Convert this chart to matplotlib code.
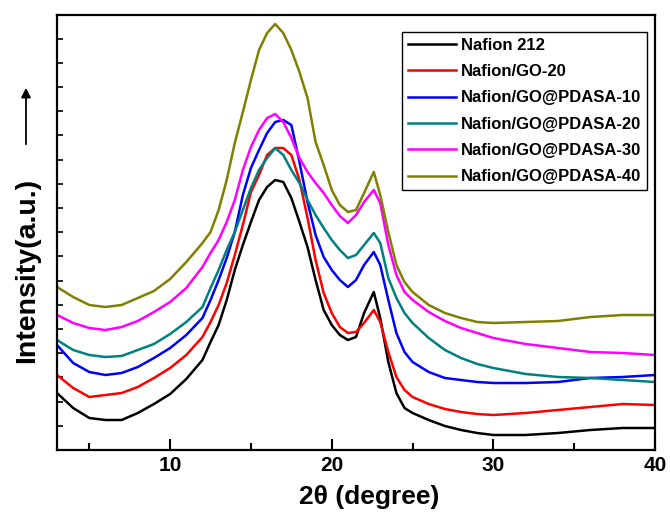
import numpy as np
import matplotlib
matplotlib.use('Agg')
import matplotlib.pyplot as plt

plt.rcParams['font.family'] = ['Liberation Sans', 'DejaVu Sans']
plt.rcParams['font.weight'] = 'bold'

two_theta = [3, 4, 5, 6, 7, 8, 9, 10, 11, 12, 12.5, 13, 13.5,
             14, 14.5, 15, 15.5, 16, 16.5, 17, 17.5, 18, 18.5, 19, 19.5,
             20, 20.5, 21, 21.5, 22, 22.6,
             23, 23.5, 24, 24.5, 25, 26, 27, 28, 29, 30, 32, 34, 36, 38, 40]

# intensities (a.u.), curves already stacked as in the figure
nafion_212 = [57, 42, 32, 30, 30, 37, 46, 56, 71, 90, 108, 125, 150,
              180, 205, 228, 250, 263, 270, 268, 252, 228, 203, 170, 140,
              125, 115, 110, 113, 137, 158,
              132, 88, 57, 42, 37, 30, 24, 20, 17, 15, 15, 17, 20, 22, 22]
nafion_go20 = [75, 62, 53, 55, 57, 63, 72, 82, 95, 113, 128, 145, 167,
               195, 225, 258, 275, 295, 302, 302, 295, 270, 232, 190, 157,
               137, 123, 117, 118, 127, 140,
               128, 98, 73, 60, 53, 46, 41, 38, 36, 35, 37, 40, 43, 46, 45]
pdasa_10 = [105, 87, 78, 75, 77, 83, 92, 102, 115, 132, 150, 170, 192,
            218, 255, 282, 300, 317, 328, 330, 325, 288, 248, 215, 193,
            180, 170, 163, 170, 185, 198,
            185, 150, 117, 98, 88, 78, 72, 70, 68, 67, 67, 68, 72, 73, 75]
pdasa_20 = [110, 100, 95, 93, 94, 100, 106, 116, 128, 143, 162, 180, 200,
            218, 240, 262, 280, 292, 302, 295, 280, 267, 250, 235, 222,
            210, 200, 192, 195, 205, 217,
            207, 172, 152, 137, 127, 112, 100, 92, 86, 82, 76, 73, 72, 70, 68]
pdasa_30 = [135, 127, 122, 120, 123, 129, 138, 148, 162, 183, 197, 210, 228,
            250, 280, 303, 320, 332, 336, 328, 312, 292, 278, 267, 257,
            245, 234, 227, 235, 248, 260,
            247, 205, 175, 158, 150, 138, 129, 122, 117, 112, 106, 102, 98, 97, 95]
pdasa_40 = [163, 153, 145, 143, 145, 152, 159, 171, 188, 207, 218, 240, 270,
            307, 338, 370, 400, 417, 426, 417, 400, 378, 352, 308, 285,
            260, 245, 238, 240, 257, 278,
            255, 218, 185, 168, 158, 145, 137, 132, 128, 127, 128, 129, 133, 135, 135]

labels = ['Nafion 212', 'Nafion/GO-20', 'Nafion/GO@PDASA-10',
          'Nafion/GO@PDASA-20', 'Nafion/GO@PDASA-30', 'Nafion/GO@PDASA-40']
colors = ['black', 'red', 'blue', '#008080', '#ff00ff', '#808000']
series = [nafion_212, nafion_go20, pdasa_10, pdasa_20, pdasa_30, pdasa_40]

fig = plt.figure(figsize=(6.7, 5.15), dpi=100)
ax = fig.add_axes([57 / 670, 65 / 515, 598 / 670, 435 / 515])

for y, c, lab in zip(series, colors, labels):
    ax.plot(two_theta, y, color=c, lw=1.8, label=lab)

ax.set_xlim(3, 40)
ax.set_ylim(0, 435)
ax.set_xticks([10, 20, 30, 40])
ax.set_xticks([5, 15, 25, 35], minor=True)
ax.set_yticks(np.arange(1, 18) * 24.2)
ax.set_yticklabels([])
ax.tick_params(axis='x', which='major', direction='in', length=8, width=1.5,
               labelsize=15, pad=4)
ax.tick_params(axis='x', which='minor', direction='in', length=5, width=1.5)
ax.tick_params(axis='y', direction='in', length=4, width=1.2)
for s in ax.spines.values():
    s.set_linewidth(1.6)

ax.set_xlabel('2θ (degree)', fontsize=19, fontweight='bold')
ax.xaxis.set_label_coords((369 - 57) / 598, -(497 - 450) / 435)
ax.xaxis.label.set_va('center')
ax.set_ylabel('Intensity(a.u.)', fontsize=20.5, fontweight='bold')
ax.yaxis.set_label_coords(-(57 - 27) / 598, (450 - 270) / 435)
ax.yaxis.label.set_va('center')

# arrow beside the y label
fig.add_artist(matplotlib.patches.FancyArrowPatch(
    (26 / 670, 1 - 147 / 515), (26 / 670, 1 - 85 / 515),
    transform=fig.transFigure, arrowstyle='-|>', mutation_scale=14,
    lw=1.3, color='black'))

leg = ax.legend(loc='upper left', bbox_to_anchor=(0.577, 0.961),
                borderaxespad=0, fontsize=12, handlelength=2.9,
                handletextpad=0.3, labelspacing=0.68, borderpad=0.35,
                fancybox=False, framealpha=1, edgecolor='black')
leg.get_frame().set_linewidth(1.0)
for t in leg.get_texts():
    t.set_fontweight('bold')

fig.savefig('out.png', dpi=100)
